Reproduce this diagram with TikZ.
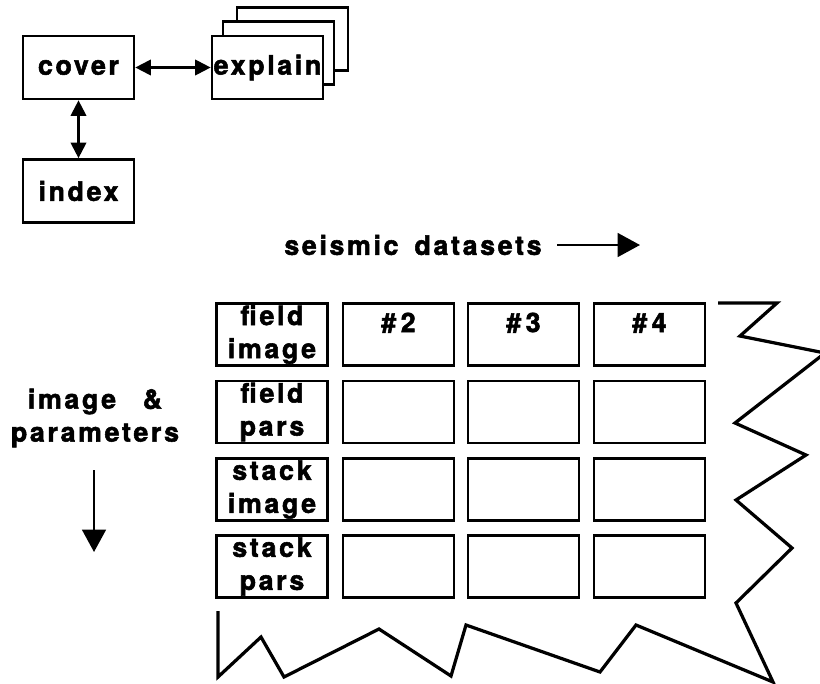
\documentclass[tikz,border=0pt]{standalone}
\usepackage{fontspec}
\setmainfont{TeX Gyre Heros}[LetterSpace=10,BoldFeatures={FakeBold=2}]
\usetikzlibrary{arrows,arrows.meta}

\newcommand{\diafont}{\fontsize{19}{23.5}\selectfont\bfseries}

\begin{document}
\begin{tikzpicture}[
x=0.025cm, y=-0.025cm,
box/.style={draw,line width=1.9pt,fill=white,inner sep=0pt,font=\diafont,minimum width=2.775cm,minimum height=1.575cm},
cell/.style={draw,line width=1.9pt,inner sep=0pt,font=\diafont,align=center,minimum width=2.78cm,minimum height=1.55cm},
numcell/.style={cell,text height=13pt,text depth=16.5pt},
plain/.style={font=\diafont,inner sep=0pt,align=center},
dblarrow/.style={{Triangle[length=11pt,width=11pt]}-{Triangle[length=11pt,width=11pt]},line width=1.5pt},
bigarrow/.style={-{Triangle[length=16pt,width=17pt]},line width=1.6pt},
jag/.style={line width=2.3pt,line join=miter}]

\useasboundingbox (0,0) rectangle (820,683);

\node[box] (cover) at (78.5,67.5) {cover};

\node[box] (explainC) at (292.5,39) {};

\node[box] (explainB) at (278.5,53) {};

\node[box] (explain) at (267.5,67.5) {explain};

\node[box] (index) at (78.5,191) {index};

\draw[dblarrow] (cover) -- (explain);

\draw[dblarrow] (cover) -- (index);

% axis labels
\node[plain] (datasets) at (413,245) {seismic\hspace{0.6em}datasets};

\coordinate (dsstart) at (557,245);

\coordinate (dsend) at (640,245);

\draw[bigarrow] (dsstart) -- (dsend);

\node[plain] (params) at (95,418) {image\quad\&\\parameters};

\coordinate (pstart) at (94,470);

\coordinate (pend) at (94,552);

\draw[bigarrow] (pstart) -- (pend);

% table of datasets
\foreach \r/\yy/\lab in {1/334.5/{field\\image},2/412/{field\\pars},3/489.5/{stack\\image},4/566.5/{stack\\pars}}
  \node[cell] (lab\r) at (272,\yy) {\lab};

\foreach \c/\xx in {2/398.5,3/523.5,4/649.5}
  \node[numcell] (d1\c) at (\xx,334.5) {\#\,\c};

\foreach \r/\yy in {2/412,3/489.5,4/566.5}
  \foreach \c/\xx in {2/398.5,3/523.5,4/649.5}
    \node[cell] (d\r\c) at (\xx,\yy) {};

\draw[jag] (718,303) -- (777,303) -- (740,336) -- (825,353) -- (735,423) -- (806,455) -- (736,500) -- (792,548) -- (736,603) -- (773,682) -- (636,625) -- (600,672) -- (466,625) -- (451,676) -- (379,629) -- (284,677) -- (261,637) -- (218,677) -- (218,611);

\end{tikzpicture}
\end{document}
